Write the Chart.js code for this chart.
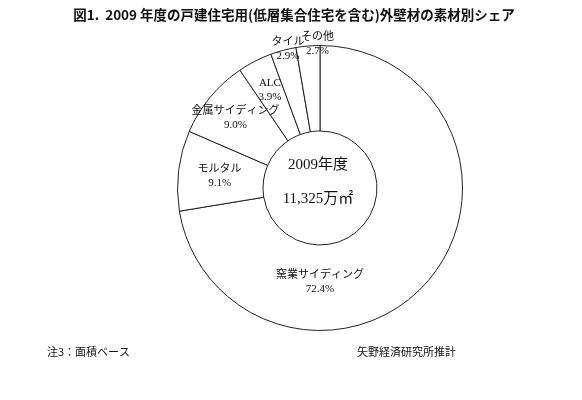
<!DOCTYPE html>
<html>
<head>
<meta charset="utf-8">
<script src="https://cdn.jsdelivr.net/npm/chart.js@4.4.1/dist/chart.umd.min.js"></script>
<style>
  html, body { margin: 0; padding: 0; background: #fff; }
  #wrap { position: relative; width: 582px; height: 400px; }
</style>
</head>
<body>
<div id="wrap"><canvas id="shareChart" width="582" height="400"></canvas></div>
<script>
// chart data
const categories = ['窯業サイディング', 'モルタル', '金属サイディング', 'ALC', 'タイル', 'その他'];
const shares = [72.4, 9.1, 9.0, 3.9, 2.9, 2.7];
const centerLines = ['2009年度', '11,325万㎡'];
const titleText = '図1.  2009 年度の戸建住宅用(低層集合住宅を含む)外壁材の素材別シェア';
const noteText = '注3：面積ベース';
const sourceText = '矢野経済研究所推計';

const serif = '"Liberation Serif", "DejaVu Serif", "Noto Sans CJK JP", serif';
const gothic = '"Noto Sans CJK JP", "DejaVu Sans", sans-serif';

// label placement: angle override (deg, clockwise from top) and radius factor
const labelAngle = [180, null, null, null, 347, 359];
const labelRadius = [0.66, 0.71, 0.77, 0.77, 1.0, 1.01];

const textPlugin = {
    id: 'textPlugin',
    afterDraw(chart) {
        const ctx = chart.ctx;
        const meta = chart.getDatasetMeta(0);
        ctx.save();
        ctx.fillStyle = '#111';
        ctx.textAlign = 'center';
        ctx.textBaseline = 'middle';

        // slice labels
        ctx.font = '11px ' + serif;
        meta.data.forEach((arc, i) => {
            const p = arc.getProps(['x', 'y', 'startAngle', 'endAngle', 'outerRadius'], true);
            let a = (p.startAngle + p.endAngle) / 2;
            if (labelAngle[i] !== null) a = (labelAngle[i] - 90) * Math.PI / 180;
            const r = p.outerRadius * labelRadius[i];
            const lx = p.x + Math.cos(a) * r;
            const ly = p.y + Math.sin(a) * r;
            ctx.fillText(categories[i], lx, ly - 7);
            ctx.fillText(shares[i].toFixed(1) + '%', lx, ly + 7);
        });

        // center text
        const c = meta.data[0];
        ctx.font = '15px ' + serif;
        ctx.fillText(centerLines[0], c.x - 2, c.y - 23);
        ctx.fillText(centerLines[1], c.x - 2, c.y + 11);

        // title
        ctx.font = 'bold 13.5px ' + gothic;
        ctx.fillText(titleText, 294, 15);

        // notes
        ctx.font = '11px ' + gothic;
        ctx.textAlign = 'left';
        ctx.fillText(noteText, 47, 352);
        ctx.fillText(sourceText, 357, 352);
        ctx.restore();
    }
};

new Chart(document.getElementById('shareChart'), {
    type: 'doughnut',
    data: {
        labels: categories,
        datasets: [{
            data: shares,
            backgroundColor: '#ffffff',
            borderColor: '#222222',
            borderWidth: 1,
            borderAlign: 'center'
        }]
    },
    options: {
        responsive: false,
        animation: false,
        cutout: '40%',
        rotation: 0,
        layout: { padding: { left: 177, right: 119, top: 45, bottom: 69 } },
        plugins: {
            legend: { display: false },
            tooltip: { enabled: false },
            title: { display: false }
        }
    },
    plugins: [textPlugin]
});
</script>
</body>
</html>
